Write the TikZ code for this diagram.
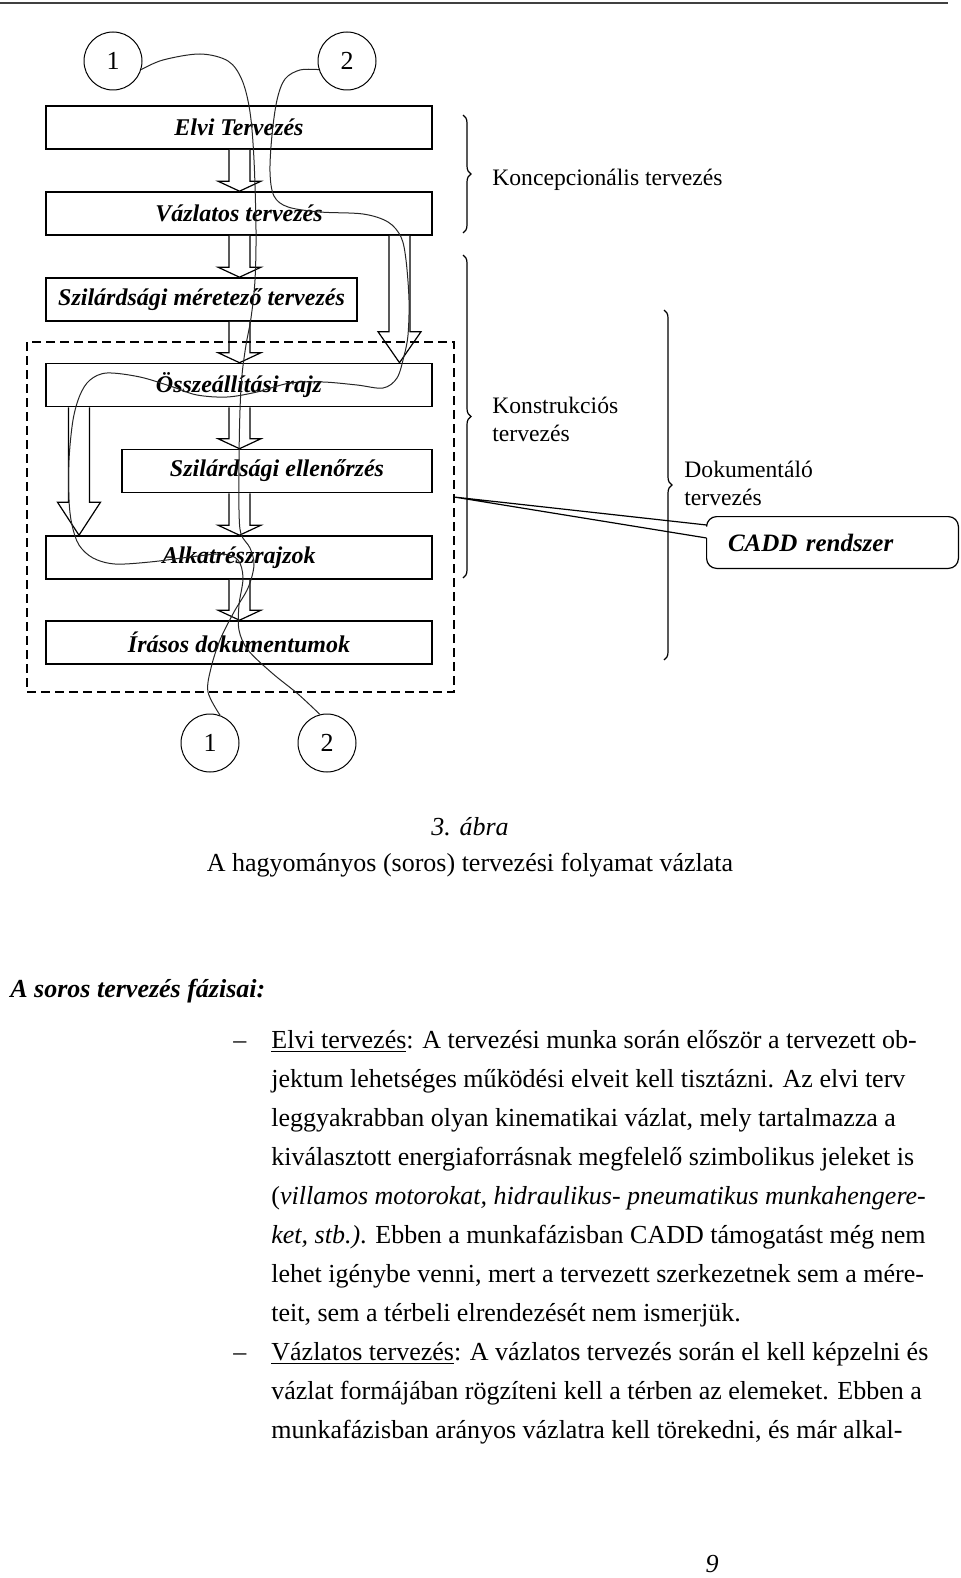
\documentclass[tikz,border=0pt]{standalone}
\usepackage{fontspec}
\setmainfont{Liberation Serif}
\usetikzlibrary{calc}
\usetikzlibrary{positioning}
\usetikzlibrary{decorations.pathreplacing}

\tikzset{
  phase/.style={draw, line width=0.8pt, minimum height=21.5pt, inner sep=0pt,
    font=\fontsize{12}{14}\selectfont\bfseries\itshape},
  fatarrow/.style={draw, line width=0.6pt, fill=white},
  marker/.style={draw, circle, line width=0.5pt, minimum size=29pt, inner sep=0pt,
    font=\fontsize{13}{15}\selectfont},
  route/.style={line width=0.5pt, draw=black!85},
  bracket/.style={decorate, decoration={brace, amplitude=4pt}, line width=0.6pt},
  sidelabel/.style={anchor=west, align=left, inner sep=0pt, font=\fontsize{11.8}{14}\selectfont},
  bodyline/.style={anchor=base west, inner sep=0pt, font=\fontsize{13}{19.5}\selectfont},
}

% hollow block arrow: centre x, upper box, lower box, head length
\newcommand{\fatarrow}[4]{%
  \coordinate (fa) at (#1,0);
  \draw[fatarrow] ($(fa |- #2.south)+(-10.5,0)$) -- ($(fa |- #3.north)+(-10.5,-#4)$)
    -- ($(fa |- #3.north)+(-21.5,-#4)$) -- (fa |- #3.north)
    -- ($(fa |- #3.north)+(21.5,-#4)$) -- ($(fa |- #3.north)+(10.5,-#4)$)
    -- ($(fa |- #2.south)+(10.5,0)$);}

\begin{document}
\begin{tikzpicture}[x=0.5pt, y=-0.5pt]
  \useasboundingbox (0,0) rectangle (960,1578);
  \draw[line width=1pt, black!75] (0,3) -- (948,3);

  % phases
  \node[phase, minimum width=193pt] (elvi) at (239,127.5) {Elvi Tervezés};
  \node[phase, minimum width=193pt] (vazlat) at (239,213.5) {Vázlatos tervezés};
  \node[phase, minimum width=155.5pt] (meretezo) at (201.5,299.5) {Szilárdsági méretező tervezés};
  \node[phase, minimum width=193pt] (ossze) at (239,385) {Összeállítási rajz};
  \node[phase, minimum width=155pt] (ellenor) at (277,471) {Szilárdsági ellenőrzés};
  \node[phase, minimum width=193pt] (alkatr) at (239,557.5) {Alkatrészrajzok};
  \node[phase, minimum width=193pt] (irasos) at (239,642.5) {Írásos dokumentumok};

  \fatarrow{239.5}{elvi}{vazlat}{10}
  \fatarrow{239.5}{vazlat}{meretezo}{10}
  \fatarrow{239.5}{meretezo}{ossze}{10}
  \fatarrow{239.5}{ossze}{ellenor}{10}
  \fatarrow{239.5}{ellenor}{alkatr}{10}
  \fatarrow{239.5}{alkatr}{irasos}{10}
  \fatarrow{399.5}{vazlat}{ossze}{31}
  \fatarrow{79}{ossze}{alkatr}{33}

  \draw[dash pattern=on 4.5pt off 2.5pt, line width=0.7pt] (27,342) rectangle (454,692);
  \coordinate (cpoint) at (454,497);

  % numbered ends
  \node[marker] (onetop) at (113,61) {1};
  \node[marker] (twotop) at (347,61) {2};
  \node[marker] (onebot) at (210,743) {1};
  \node[marker] (twobot) at (327,743) {2};

  \draw[route] plot[smooth, tension=0.55] coordinates {(onetop.-17) (163,60) (200,54) (228,61)
    (242,80) (250,112) (254,160) (256,230) (255,280) (251,318) (246,345) (242,375) (240,410)
    (239,460) (239,510) (241,534) (250,548) (254,565) (248,588) (234,612) (220,640) (211,668)
    (208,692) (onebot.70)};
  \draw[route] plot[smooth, tension=0.55] coordinates {(twotop.197) (300,70) (285,79) (277,100)
    (272,135) (270,172) (274,196) (288,207) (320,212) (363,214) (388,222) (401,237) (406,260)
    (409,300) (408,335) (404,356) (397,378) (383,388) (357,385) (323,382) (290,383) (257,392)
    (227,397) (197,395) (173,387) (140,377) (107,373) (90,380) (80,395) (73,420) (69,460)
    (69,500) (72,525) (79,545) (93,558) (115,564) (150,562) (190,557) (222,554) (238,560)
    (243,578) (239,605) (239,630) (248,650) (272,673) (298,694) (twobot.104)};

  % phases grouped
  \draw[bracket] (463,115) -- (463,233);
  \draw[bracket] (463,255) -- (463,578);
  \draw[bracket] (664,310) -- (664,660);
  \node[sidelabel] at (492,180) {Koncepcionális tervezés};
  \node[sidelabel] at (492,419) {Konstrukciós\\tervezés};
  \node[sidelabel] at (684,483) {Dokumentáló\\tervezés};

  \node[minimum width=125.5pt, minimum height=25.5pt, inner xsep=10.5pt, text width=104.5pt,
    align=left, font=\fontsize{12.5}{14}\selectfont\bfseries\itshape] (cadd) at (832.5,542.5)
    {CADD rendszer};
  \draw[line width=0.6pt] ([yshift=2.25pt]cadd.west) -- (cpoint) -- ([yshift=8.75pt]cadd.west)
    {[rounded corners=5pt] -- (cadd.north west) -- (cadd.north east) -- (cadd.south east)
    -- (cadd.south west) -- ([yshift=2.25pt]cadd.west)};

  % caption and text
  \node[anchor=base, inner sep=0pt, font=\fontsize{13}{15}\selectfont\itshape] (fignum) at (470,835) {3. ábra};
  \node[anchor=base, inner sep=0pt, font=\fontsize{13}{15}\selectfont] (figtitle) at (470,871)
    {A hagyományos (soros) tervezési folyamat vázlata};
  \node[bodyline, font=\fontsize{13}{15}\selectfont\bfseries\itshape] (heading) at (10,997)
    {A soros tervezés fázisai:};

  \node[bodyline] (dashA) at (233,1048) {–};
  \node[bodyline] (l1) at (271,1048) {\underline{Elvi tervezés}: A tervezési munka során először a tervezett ob-};
  \node[bodyline] (l2) at (271,1087) {jektum lehetséges működési elveit kell tisztázni. Az elvi terv};
  \node[bodyline] (l3) at (271,1126) {leggyakrabban olyan kinematikai vázlat, mely tartalmazza a};
  \node[bodyline] (l4) at (271,1165) {kiválasztott energiaforrásnak megfelelő szimbolikus jeleket is};
  \node[bodyline] (l5) at (271,1204) {(\textit{villamos motorokat, hidraulikus- pneumatikus munkahengere-}};
  \node[bodyline] (l6) at (271,1243) {\textit{ket, stb.)}. Ebben a munkafázisban CADD támogatást még nem};
  \node[bodyline] (l7) at (271,1282) {lehet igénybe venni, mert a tervezett szerkezetnek sem a mére-};
  \node[bodyline] (l8) at (271,1321) {teit, sem a térbeli elrendezését nem ismerjük.};
  \node[bodyline] (dashB) at (233,1360) {–};
  \node[bodyline] (l9) at (271,1360) {\underline{Vázlatos tervezés}: A vázlatos tervezés során el kell képzelni és};
  \node[bodyline] (l10) at (271,1399) {vázlat formájában rögzíteni kell a térben az elemeket. Ebben a};
  \node[bodyline] (l11) at (271,1438) {munkafázisban arányos vázlatra kell törekedni, és már alkal-};

  \node[anchor=base, inner sep=0pt, font=\fontsize{13}{15}\selectfont\itshape] (pagenum) at (712,1572) {9};
\end{tikzpicture}
\end{document}
